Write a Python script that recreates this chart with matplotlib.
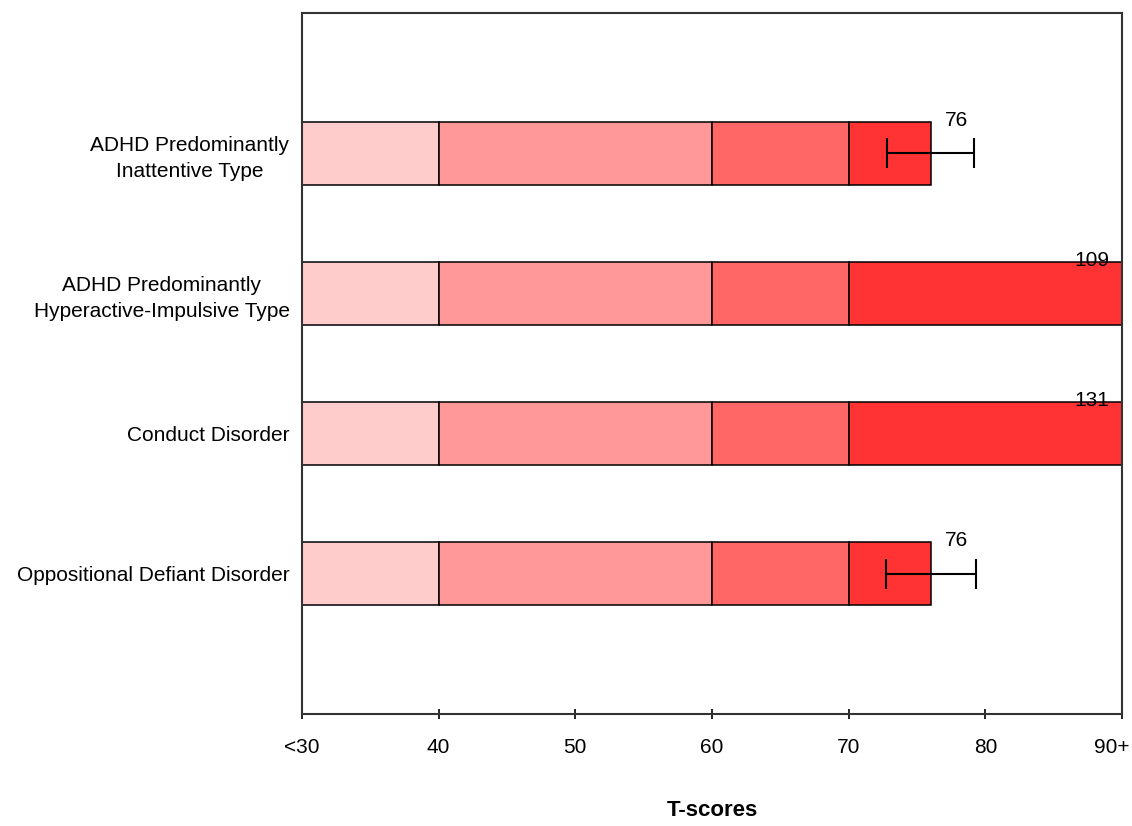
import matplotlib.pyplot as plt
import matplotlib.transforms as mtransforms
import numpy as np

plt.rcParams['font.family'] = ['Liberation Sans', 'DejaVu Sans']

# scale data
categories = ['ADHD Predominantly\nInattentive Type',
              'ADHD Predominantly\nHyperactive-Impulsive Type',
              'Conduct Disorder',
              'Oppositional Defiant Disorder']
scores = [76, 109, 131, 76]
errors = [3.2, 3.2, 3.2, 3.3]
band_edges = [30, 40, 60, 70]
band_colors = ['#ffcccc', '#ff9999', '#ff6666', '#ff3333']
x_ticks = [30, 40, 50, 60, 70, 80, 90]
x_ticklabels = ['<30', '40', '50', '60', '70', '80', '90+']

fig = plt.figure(figsize=(11.32, 8.26), dpi=100)
ax = fig.add_axes([302 / 1132, 1 - 714 / 826, 820 / 1132, 701 / 826])

y = np.arange(len(categories))
xmax = 90
bar_h = 0.45
for i, score in enumerate(scores):
    # coloured bands up to the score (clipped at 90)
    ends = band_edges[1:] + [min(score, xmax)]
    for start, end, col in zip(band_edges, ends, band_colors):
        ax.barh(y[i], end - start, left=start, height=bar_h, color=col,
                edgecolor='black', linewidth=1.1, zorder=2)
    ax.errorbar(score, y[i], xerr=errors[i], fmt='none', ecolor='black',
                elinewidth=1.5, capsize=11, capthick=1.5, zorder=3)
    if score <= xmax:
        lx = score + 1.9
    else:
        lx = xmax - 2.2
    ax.text(lx, y[i] - bar_h / 2 - 0.01, str(score), ha='center', va='center',
            fontsize=15, zorder=4)

ax.set_xlim(30, 90)
ax.set_ylim(len(categories), -1)
ax.set_xticks(x_ticks)
ax.set_xticklabels(x_ticklabels, fontsize=15)
ax.set_yticks(y)
ax.set_yticklabels(categories, fontsize=15, ma='center', linespacing=1.45)
ax.tick_params(axis='x', direction='inout', length=7, width=1.2, pad=14)
ax.tick_params(axis='y', length=0, pad=9)
for sp in ax.spines.values():
    sp.set_linewidth(1.5)
    sp.set_color('#333333')

# "90+" sits a little left of its tick, like the original
last = ax.get_xticklabels()[-1]
last.set_transform(last.get_transform() +
                   mtransforms.ScaledTranslation(-10 / 100, 0, fig.dpi_scale_trans))

fig.text(712 / 1132, 1 - 810 / 826, 'T-scores', ha='center', va='center',
         fontsize=16, fontweight='bold')

fig.savefig('out.png', dpi=100)
